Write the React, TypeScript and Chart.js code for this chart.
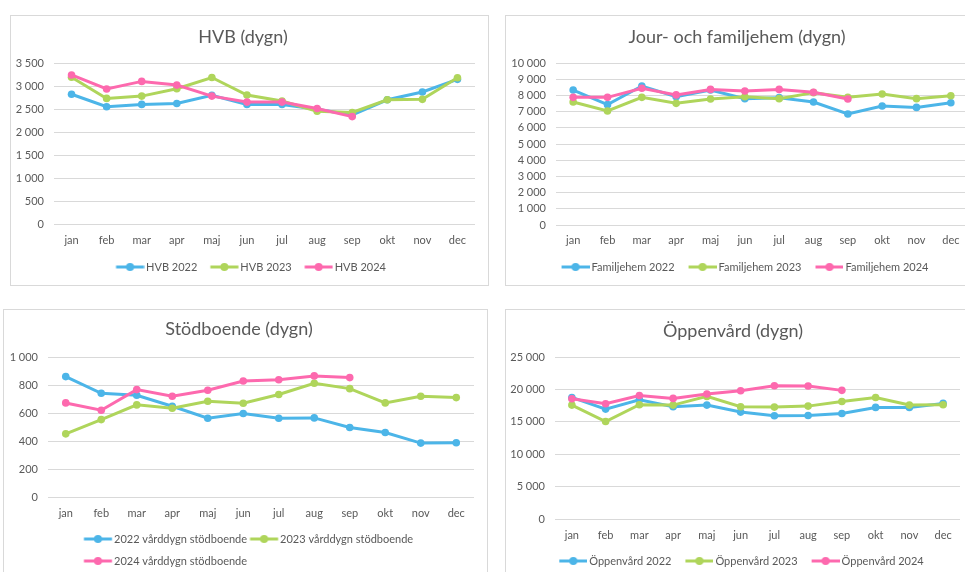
import React, { useEffect, useRef } from 'react';
import { Chart, registerables } from 'chart.js';
Chart.register(...registerables);

const MONTHS = ['jan', 'feb', 'mar', 'apr', 'maj', 'jun', 'jul', 'aug', 'sep', 'okt', 'nov', 'dec'];

const HVB_2022 = [2820, 2550, 2600, 2620, 2800, 2600, 2600, 2495, 2370, 2700, 2870, 3145];
const HVB_2023 = [3190, 2730, 2780, 2940, 3185, 2805, 2675, 2450, 2425, 2700, 2710, 3180];
const HVB_2024 = [3240, 2935, 3100, 3020, 2780, 2650, 2650, 2510, 2335];

const FAM_2022 = [8330, 7430, 8580, 7920, 8330, 7800, 7860, 7590, 6850, 7350, 7260, 7550];
const FAM_2023 = [7590, 7040, 7880, 7510, 7780, 7920, 7800, 8170, 7880, 8090, 7800, 7980];
const FAM_2024 = [7880, 7880, 8440, 8030, 8370, 8270, 8370, 8190, 7780];

const STOD_2022 = [860, 741, 727, 648, 563, 596, 563, 565, 496, 461, 385, 387];
const STOD_2023 = [451, 553, 658, 634, 684, 670, 732, 812, 774, 672, 720, 710];
const STOD_2024 = [672, 620, 767, 720, 762, 829, 838, 865, 853];

const OPP_2022 = [18760, 16960, 18400, 17320, 17580, 16500, 15930, 15980, 16290, 17220, 17220, 17840];
const OPP_2023 = [17580, 15050, 17630, 17580, 18920, 17320, 17270, 17420, 18140, 18760, 17580, 17630];
const OPP_2024 = [18560, 17780, 19070, 18610, 19280, 19790, 20570, 20520, 19850];

const HVB_LABELS = ['HVB 2022', 'HVB 2023', 'HVB 2024'];
const FAM_LABELS = ['Familjehem 2022', 'Familjehem 2023', 'Familjehem 2024'];
const STOD_LABELS = ['2022 vårddygn stödboende', '2023 vårddygn stödboende', '2024 vårddygn stödboende'];
const OPP_LABELS = ['Öppenvård 2022', 'Öppenvård 2023', 'Öppenvård 2024'];

const BLUE = '#4cb5e8';
const GREEN = '#afd55b';
const PINK = '#fd69ae';
const COLORS = [BLUE, GREEN, PINK];
const FONT = 'Lato, "Open Sans", sans-serif';
const TEXT = '#595959';
const GRID = '#d9d9d9';

const F = 11;
const TF = 18;
const SAMPLE = 28; // legend sample line length

function fmt(v: number) {
  return String(v).replace(/\B(?=(\d{3})+(?!\d))/g, ' ');
}

// Legend sample (line + marker), positioned so it ends ~2px before the text
function legendImage(color: string, pbw: number) {
  const lineEnd = pbw + F / 2 - 2; // relative to item x
  const lineStart = lineEnd - SAMPLE;
  const half = Math.ceil(Math.max(lineEnd - pbw / 2, pbw / 2 - lineStart));
  const W = half * 2;
  const imgStart = pbw / 2 - half;
  const off = lineStart - imgStart;
  const c = document.createElement('canvas');
  c.width = W;
  c.height = 10;
  const ctx = c.getContext('2d')!;
  ctx.strokeStyle = color;
  ctx.lineWidth = 3;
  ctx.beginPath();
  ctx.moveTo(off, 5);
  ctx.lineTo(off + SAMPLE, 5);
  ctx.stroke();
  ctx.fillStyle = color;
  ctx.beginPath();
  ctx.arc(off + SAMPLE / 2, 5, 4, 0, Math.PI * 2);
  ctx.fill();
  return c;
}

type Cfg = {
  x: number; y: number; w: number; h: number;
  title: string;
  labels: string[];
  series: number[][];
  yMax: number; yStep: number;
  plotLeft: number; plotRight: number; plotTop: number; plotBottom: number;
  titleCenter: number; xLabelCenter: number; xAxisH: number; legendCenter: number;
  gap: number; rows: number; legendLineStart?: number; legendMid?: number;
};

const PANELS: Cfg[] = [
  {
    x: 11, y: 16, w: 477, h: 269, title: 'HVB (dygn)', labels: HVB_LABELS,
    series: [HVB_2022, HVB_2023, HVB_2024], yMax: 3500, yStep: 500,
    plotLeft: 43, plotRight: 464, plotTop: 47, plotBottom: 208,
    titleCenter: 21, xLabelCenter: 224, xAxisH: 30, legendCenter: 251, gap: 13, rows: 1,
    legendMid: 240,
  },
  {
    x: 506, y: 16, w: 476, h: 269, title: 'Jour- och familjehem (dygn)', labels: FAM_LABELS,
    series: [FAM_2022, FAM_2023, FAM_2024], yMax: 10000, yStep: 1000,
    plotLeft: 50, plotRight: 462, plotTop: 47, plotBottom: 209,
    titleCenter: 21, xLabelCenter: 224, xAxisH: 29, legendCenter: 251, gap: 14, rows: 1,
    legendMid: 239,
  },
  {
    x: 4, y: 310, w: 483, h: 278, title: 'Stödboende (dygn)', labels: STOD_LABELS,
    series: [STOD_2022, STOD_2023, STOD_2024], yMax: 1000, yStep: 200,
    plotLeft: 44, plotRight: 470, plotTop: 47, plotBottom: 187,
    titleCenter: 19, xLabelCenter: 203, xAxisH: 25.5, legendCenter: 229, gap: 3, rows: 2,
    legendLineStart: 80,
  },
  {
    x: 506, y: 310, w: 474, h: 278, title: 'Öppenvård (dygn)', labels: OPP_LABELS,
    series: [OPP_2022, OPP_2023, OPP_2024], yMax: 25000, yStep: 5000,
    plotLeft: 49, plotRight: 454, plotTop: 47, plotBottom: 209,
    titleCenter: 21, xLabelCenter: 225, xAxisH: 29, legendCenter: 251, gap: 14, rows: 1,
    legendMid: 235.5,
  },
];

function Panel({ cfg }: { cfg: Cfg }) {
  const ref = useRef<HTMLCanvasElement>(null);
  useEffect(() => {
    if (!ref.current) return;
    const TLH = TF * 1.2;
    const legendTop = cfg.plotBottom + cfg.xAxisH;
    const Lp = cfg.legendCenter - legendTop - F / 2;
    // gap between previous text end and next sample start = pbw - (SAMPLE - F/2 + 2) + Lp
    const pbw = Math.max(4, cfg.gap - Lp + SAMPLE - F / 2 + 2);
    const legendH = cfg.rows * (F + Lp) + 10;
    const padBottom = Math.max(0, cfg.h - legendTop - legendH);
    const images = COLORS.map((c) => legendImage(c, pbw));

    const chart = new Chart(ref.current, {
      type: 'line',
      data: {
        labels: MONTHS,
        datasets: cfg.series.map((s, i) => ({
          label: cfg.labels[i],
          data: s,
          borderColor: COLORS[i],
          backgroundColor: COLORS[i],
          pointBackgroundColor: COLORS[i],
          pointBorderColor: COLORS[i],
          pointBorderWidth: 0,
          pointRadius: 3.8,
          borderWidth: 3,
          tension: 0,
          fill: false,
          order: 2 - i,
        })),
      },
      options: {
        animation: false,
        responsive: false,
        events: [],
        layout: {
          padding: { left: 0, right: cfg.w - cfg.plotRight, top: 0, bottom: padBottom },
        },
        plugins: {
          title: {
            display: true,
            text: cfg.title,
            color: TEXT,
            font: { family: FONT, size: TF, weight: 'normal' },
            padding: {
              top: cfg.titleCenter - TLH / 2,
              bottom: cfg.plotTop - cfg.titleCenter - TLH / 2,
            },
          },
          legend: {
            display: true,
            position: 'bottom',
            align: cfg.legendLineStart !== undefined ? 'start' : 'center',
            maxHeight: cfg.h - legendTop,
            labels: {
              color: TEXT,
              font: { family: FONT, size: F },
              usePointStyle: true,
              pointStyleWidth: pbw,
              boxHeight: F,
              padding: Lp,
              generateLabels: (ch: any) => {
                const items = Chart.defaults.plugins.legend.labels.generateLabels(ch);
                items.sort((a: any, b: any) => a.datasetIndex - b.datasetIndex);
                return items.map((it: any) => ({ ...it, pointStyle: images[it.datasetIndex] }));
              },
            },
          },
          tooltip: { enabled: false },
        },
        scales: {
          x: {
            type: 'category',
            offset: true,
            grid: { display: false, drawTicks: false },
            border: { display: false },
            ticks: {
              color: TEXT,
              font: { family: FONT, size: F },
              padding: cfg.xLabelCenter - cfg.plotBottom - F * 0.6,
              maxRotation: 0,
              autoSkip: false,
            },
            afterFit: (s: any) => { s.height = cfg.xAxisH; },
          },
          y: {
            min: 0,
            max: cfg.yMax,
            grid: { color: GRID, lineWidth: 1, drawTicks: false },
            border: { display: false },
            ticks: {
              stepSize: cfg.yStep,
              color: TEXT,
              font: { family: FONT, size: F },
              padding: 10,
              callback: (v: any) => fmt(Number(v)),
            },
            afterFit: (s: any) => { s.width = cfg.plotLeft; },
          },
        },
      },
      plugins: [
        {
          id: 'legendShift',
          beforeDraw: (ch: any) => {
            const lg = ch.legend;
            if (!lg) return;
            if (cfg.legendLineStart !== undefined) {
              // item x = legend.left + Lp; sample line starts at x + pbw - (SAMPLE - F/2 + 2)
              lg.left = cfg.legendLineStart - Lp - pbw + (SAMPLE - F / 2 + 2);
            } else if (cfg.legendMid !== undefined) {
              // visual centre = (left + right)/2 + gap/2 - Lp/2
              lg.left = 0;
              lg.right = 2 * (cfg.legendMid - cfg.gap / 2 + Lp / 2);
            }
          },
        },
      ],
    } as any);
    return () => chart.destroy();
  }, [cfg]);

  return (
    <div
      style={{
        position: 'absolute',
        left: cfg.x - 1,
        top: cfg.y - 1,
        width: cfg.w + 2,
        height: cfg.h + 2,
        border: `1px solid ${GRID}`,
        boxSizing: 'border-box',
        background: '#fff',
      }}
    >
      <canvas
        ref={ref}
        width={cfg.w}
        height={cfg.h}
        style={{ position: 'absolute', left: 0, top: 0, width: cfg.w, height: cfg.h }}
      />
    </div>
  );
}

export default function App() {
  return (
    <div
      style={{
        position: 'fixed',
        left: 0,
        top: 0,
        width: 965,
        height: 572,
        overflow: 'hidden',
        background: '#fff',
      }}
    >
      {PANELS.map((p, i) => (
        <Panel key={i} cfg={p} />
      ))}
    </div>
  );
}
